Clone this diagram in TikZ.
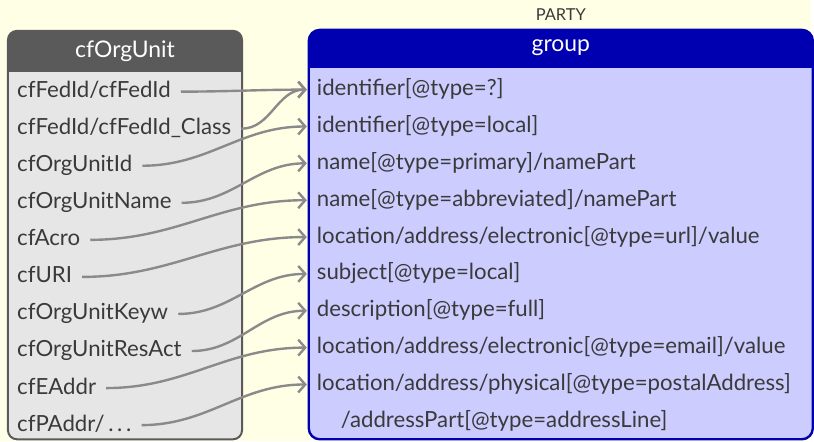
\documentclass[tikz,border=0pt]{standalone}
\usepackage{fontspec}
\setmainfont{Lato}
\usepackage{tikz}
\usetikzlibrary{arrows.meta}
\definecolor{paper}{HTML}{FFFFE6}
\definecolor{cfgrey}{HTML}{5A5A5A}
\definecolor{cfbody}{HTML}{E6E6E6}
\definecolor{rifblue}{HTML}{0000B0}
\definecolor{rifbody}{HTML}{CCCCFF}
\definecolor{ink}{HTML}{3A3A3A}
\definecolor{wire}{HTML}{8A8A8A}

\tikzset{
  field/.style={anchor=west, inner xsep=10pt, inner ysep=2pt, text=ink,
    text height=14pt, text depth=2pt, font=\fontsize{22.3}{24}\selectfont},
  head/.style={text=white, font=\fontsize{23}{25}\selectfont},
  map/.style={wire, line width=2.4pt, -{Straight Barb[length=7pt,width=16pt]}},
}

\begin{document}
\begin{tikzpicture}[x=1pt,y=-1pt]
\fill[paper] (0,0) rectangle (814,443);
% CERIF side
\begin{scope}
  \clip[rounded corners=9pt] (8,31) rectangle (243,441);
  \fill[cfbody] (8,31) rectangle (243,441);
  \fill[cfgrey] (8,31) rectangle (243,72);
\end{scope}
\draw[cfgrey, line width=2pt, rounded corners=9pt] (8,31) rectangle (243,441);
\node[head] (orgunit) at (125.5,51) {cfOrgUnit};
\foreach \txt [count=\i] in {{cfFedId/cfFedId}, {cfFedId/cfFedId\_Class},
    cfOrgUnitId, cfOrgUnitName, cfAcro, cfURI, cfOrgUnitKeyw,
    cfOrgUnitResAct, cfEAddr, {cfPAddr/\,.\,.\,.}}
  \node[field] (l\i) at (7,92+37.2*\i-37.2) {\txt};
% RIF-CS side
\node[text=ink, font=\fontsize{16.5}{18}\selectfont] (party) at (563,15) {PARTY};
\begin{scope}
  \clip[rounded corners=11pt] (310,30) rectangle (816,441);
  \fill[rifbody] (310,30) rectangle (816,441);
  \fill[rifblue] (310,30) rectangle (816,68);
\end{scope}
\draw[rifblue, line width=2.4pt, rounded corners=11pt] (310,30) rectangle (816,441);
\node[head] (group) at (563,48) {group};
\foreach \txt [count=\i] in {{identifier[@type=?]}, {identifier[@type=local]},
    {name[@type=primary]/namePart}, {name[@type=abbreviated]/namePart},
    {location/address/electronic[@type=url]/value}, {subject[@type=local]},
    {description[@type=full]}, {location/address/electronic[@type=email]/value},
    {location/address/physical[@type=postalAddress]}}
  \node[field] (r\i) at (308,90+37*\i-37) {\txt};
\node[field, inner xsep=0pt] (rcont) at (342,423) {/addressPart[@type=addressLine]};
% mappings
\foreach \a/\b in {1/1, 2/1, 3/2, 4/3, 5/4, 6/5, 7/6, 8/7, 9/8, 10/9}
  \draw[map] (l\a.east) to[out=0, in=180] (r\b.west);
\end{tikzpicture}
\end{document}
